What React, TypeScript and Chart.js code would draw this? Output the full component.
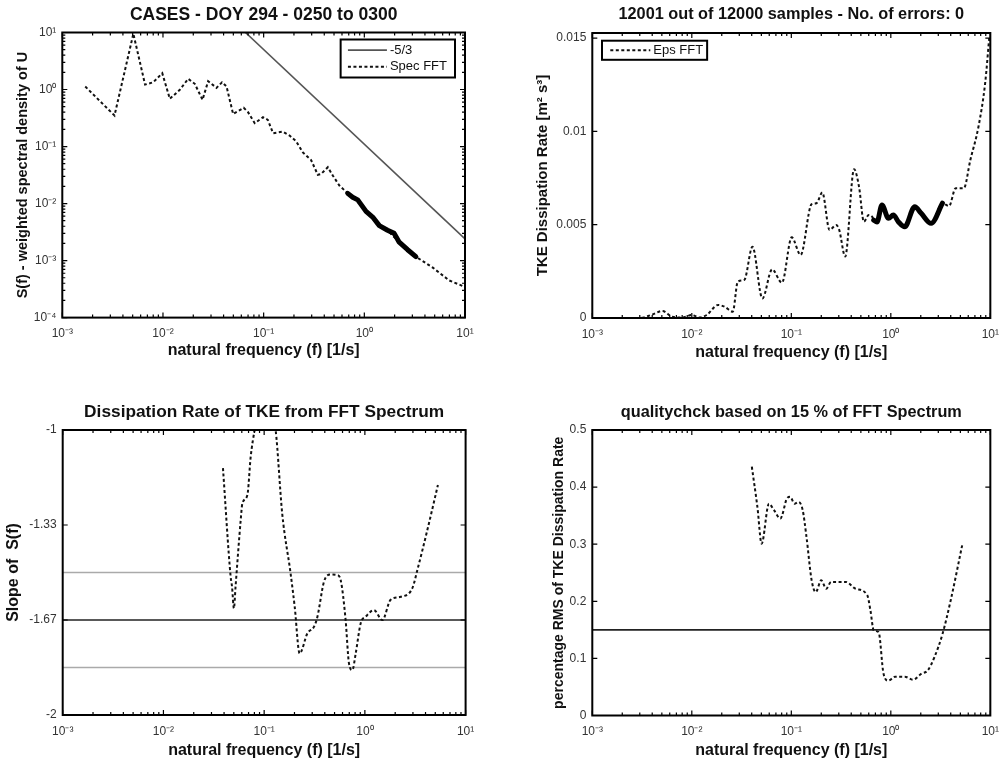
import React, { useEffect, useRef } from 'react';
import { Chart, registerables } from 'chart.js';

Chart.register(...registerables);

const FONT = "'Liberation Sans', Arial, Helvetica, sans-serif";

// ---------- tick labels ----------
const xTickValues = [0.001, 0.01, 0.1, 1, 10];
const xTickLabels = ['10⁻³', '10⁻²', '10⁻¹', '10⁰', '10¹'];
const specYTickValues = [1e-4, 1e-3, 1e-2, 1e-1, 1, 10];
const specYTickLabels = ['10⁻⁴', '10⁻³', '10⁻²', '10⁻¹', '10⁰', '10¹'];
const epsYTickValues = [0, 0.005, 0.01, 0.015];
const epsYTickLabels = ['0', '0.005', '0.01', '0.015'];
const slopeYTickValues = [-2, -1.6667, -1.3333, -1];
const slopeYTickLabels = ['-2', '-1.67', '-1.33', '-1'];
const rmsYTickValues = [0, 0.1, 0.2, 0.3, 0.4, 0.5];
const rmsYTickLabels = ['0', '0.1', '0.2', '0.3', '0.4', '0.5'];
const xRange = [0.001, 10];

// ---------- panel 1: spectrum ----------
const specFreq = [0.00169, 0.0033, 0.00508, 0.00664, 0.008, 0.00984, 0.0117, 0.0147, 0.0178, 0.0207, 0.0247, 0.0281, 0.034, 0.0386, 0.0428, 0.0497, 0.0634, 0.07, 0.0815, 0.0985, 0.11, 0.124, 0.155, 0.181, 0.21, 0.245, 0.296, 0.345, 0.372, 0.434, 0.486, 0.565, 0.684, 0.86, 1.04, 1.41, 1.7, 2.22, 3.25, 4.75, 6.95, 9.8];
const specVal = [1.13, 0.35, 9.5, 1.22, 1.34, 1.93, 0.687, 0.99, 1.54, 1.26, 0.66, 1.4, 1.07, 1.34, 1.13, 0.374, 0.478, 0.4, 0.257, 0.327, 0.294, 0.171, 0.183, 0.156, 0.124, 0.079, 0.058, 0.032, 0.033, 0.0434, 0.031, 0.0207, 0.0151, 0.0116, 0.0073, 0.0041, 0.0034, 0.0021, 0.00117, 0.00076, 0.00045, 0.00035];
const specFitFreq = [0.684, 0.766, 0.86, 1.04, 1.21, 1.41, 1.7, 1.98, 2.22, 2.69, 3.25];
const specFitVal = [0.0151, 0.0129, 0.0116, 0.0073, 0.0058, 0.0041, 0.0034, 0.003, 0.0021, 0.00155, 0.00117];
const refFreq = [0.066, 10];
const refVal = [10, 0.0024];

// ---------- panel 2: dissipation rate ----------
const epsFreq = [0.001, 0.003, 0.0039, 0.00506, 0.00636, 0.008, 0.01, 0.0118, 0.0141, 0.0184, 0.0214, 0.0258, 0.029, 0.0337, 0.0407, 0.0512, 0.0641, 0.0805, 0.101, 0.124, 0.16, 0.179, 0.205, 0.242, 0.282, 0.303, 0.348, 0.427, 0.479, 0.536, 0.6, 0.649, 0.673, 0.726, 0.815, 0.947, 1.06, 1.19, 1.38, 1.74, 2.02, 2.54, 3.3, 3.85, 4.48, 5.41, 6.3, 7.6, 8.87, 9.77];
const epsVal = [0, 0, 0.00016, 0.000375, 0.00007, 0.00002, 0.00016, 0.00003, 0.00016, 0.0007, 0.0006, 0.00034, 0.00195, 0.00204, 0.00382, 0.00105, 0.0026, 0.00189, 0.00432, 0.00338, 0.0061, 0.00615, 0.00672, 0.00472, 0.00498, 0.00472, 0.00329, 0.00797, 0.00704, 0.00516, 0.00552, 0.00543, 0.00525, 0.00514, 0.00605, 0.00534, 0.00552, 0.00516, 0.00489, 0.00596, 0.00561, 0.00507, 0.00615, 0.006, 0.00695, 0.00695, 0.00847, 0.01025, 0.01258, 0.01507];
const epsFitFreq = [0.673, 0.726, 0.815, 0.947, 1.06, 1.19, 1.38, 1.74, 2.02, 2.54, 3.3];
const epsFitVal = [0.00525, 0.00514, 0.00605, 0.00534, 0.00552, 0.00516, 0.00489, 0.00596, 0.00561, 0.00507, 0.00615];

// ---------- panel 3: slope ----------
const slopeFreq = [0.039, 0.0465, 0.048, 0.0501, 0.052, 0.0585, 0.0608, 0.0682, 0.0735, 0.0805, 0.1, 0.13, 0.151, 0.183, 0.201, 0.225, 0.269, 0.313, 0.338, 0.393, 0.457, 0.533, 0.575, 0.644, 0.695, 0.751, 0.811, 0.909, 1.02, 1.23, 1.49, 1.8, 2.27, 2.96, 3.32, 4.17, 5.31];
const slopeVal = [-1.134, -1.515, -1.55, -1.626, -1.55, -1.316, -1.257, -1.228, -1.094, -1.0, -0.85, -1.0, -1.292, -1.503, -1.62, -1.784, -1.713, -1.69, -1.655, -1.532, -1.507, -1.509, -1.526, -1.667, -1.819, -1.842, -1.784, -1.678, -1.655, -1.632, -1.667, -1.596, -1.585, -1.555, -1.491, -1.351, -1.193];
const slopeRefLevels = [-1.5, -1.6667, -1.8333];

// ---------- panel 4: quality check ----------
const rmsFreq = [0.0401, 0.0456, 0.0503, 0.0596, 0.0668, 0.0776, 0.0904, 0.0974, 0.1076, 0.118, 0.13, 0.142, 0.16, 0.176, 0.2, 0.224, 0.251, 0.353, 0.443, 0.579, 0.624, 0.673, 0.754, 0.845, 0.946, 1.1, 1.38, 1.67, 2.02, 2.35, 2.74, 3.31, 4.0, 5.21];
const rmsVal = [0.4357, 0.3655, 0.301, 0.371, 0.36, 0.345, 0.38, 0.383, 0.371, 0.374, 0.36, 0.313, 0.237, 0.216, 0.237, 0.222, 0.234, 0.234, 0.222, 0.211, 0.184, 0.149, 0.146, 0.073, 0.061, 0.068, 0.068, 0.0626, 0.073, 0.079, 0.102, 0.143, 0.202, 0.298];
const rmsThreshold = [0.15];

// ---------- helpers ----------
const zip = (xs: number[], ys: number[]) => xs.map((x, i) => ({ x, y: ys[i] }));
const hline = (y: number) => xRange.map((x) => ({ x, y }));
const labelFor = (vals: number[], labels: string[], v: number) => {
  const i = vals.findIndex((t) => Math.abs(t - v) <= Math.abs(t) * 1e-3 + 1e-12);
  return i >= 0 ? labels[i] : '';
};

const dotted = (label: string, data: any[], mono: boolean) => ({
  label,
  data,
  borderColor: '#111',
  borderWidth: 2,
  borderDash: [3, 2.5],
  pointRadius: 0,
  fill: false,
  cubicInterpolationMode: mono ? 'monotone' : 'default',
  tension: 0,
});
const thick = (label: string, data: any[], mono: boolean) => ({
  label,
  data,
  borderColor: '#000',
  borderWidth: 5,
  borderCapStyle: 'round',
  borderJoinStyle: 'round',
  pointRadius: 0,
  fill: false,
  cubicInterpolationMode: mono ? 'monotone' : 'default',
  tension: 0,
});
const solid = (label: string, data: any[], color: string, w: number) => ({
  label,
  data,
  borderColor: color,
  borderWidth: w,
  pointRadius: 0,
  fill: false,
  tension: 0,
});

// MATLAB-like box with inward ticks on all four sides
function tickList(scale: any) {
  const out: { v: number; major: boolean }[] = [];
  if (scale.type === 'logarithmic') {
    const lo = Math.floor(Math.log10(scale.min) + 1e-9);
    const hi = Math.ceil(Math.log10(scale.max) - 1e-9);
    for (let d = lo; d <= hi; d++) {
      for (let k = 1; k <= 9; k++) {
        const v = k * Math.pow(10, d);
        if (v >= scale.min * (1 - 1e-9) && v <= scale.max * (1 + 1e-9)) out.push({ v, major: k === 1 });
      }
    }
  } else {
    scale.ticks.forEach((t: any) => out.push({ v: t.value, major: true }));
  }
  return out;
}

const matlabBox = {
  id: 'matlabBox',
  afterDatasetsDraw(chart: any) {
    const { ctx, chartArea: a, scales } = chart;
    ctx.save();
    ctx.strokeStyle = '#000';
    ctx.lineWidth = 1.2;
    ctx.beginPath();
    tickList(scales.x).forEach(({ v, major }) => {
      const p = scales.x.getPixelForValue(v);
      const len = major ? 5 : 3;
      ctx.moveTo(p, a.bottom);
      ctx.lineTo(p, a.bottom - len);
      ctx.moveTo(p, a.top);
      ctx.lineTo(p, a.top + len);
    });
    tickList(scales.y).forEach(({ v, major }) => {
      const p = scales.y.getPixelForValue(v);
      const len = major ? 5 : 3;
      ctx.moveTo(a.left, p);
      ctx.lineTo(a.left + len, p);
      ctx.moveTo(a.right, p);
      ctx.lineTo(a.right - len, p);
    });
    ctx.stroke();
    ctx.lineWidth = 2;
    ctx.strokeRect(a.left, a.top, a.right - a.left, a.bottom - a.top);
    ctx.restore();
  },
};

const boxLegend = {
  id: 'boxLegend',
  afterDraw(chart: any, _args: any, opts: any) {
    if (!opts || !opts.items) return;
    const { ctx, chartArea: a } = chart;
    ctx.save();
    ctx.font = `${opts.fontSize}px ${FONT}`;
    const items = opts.items.map((i: number) => chart.data.datasets[i]);
    const tw = Math.max(...items.map((d: any) => ctx.measureText(d.label).width));
    const w = opts.padL + opts.lineLen + opts.gap + tw + opts.padR;
    const h = opts.rowH * items.length + opts.padV * 2;
    const x0 = opts.anchor === 'right' ? a.right - opts.offX - w : a.left + opts.offX;
    const y0 = a.top + opts.offY;
    ctx.fillStyle = '#fff';
    ctx.fillRect(x0, y0, w, h);
    ctx.strokeStyle = '#000';
    ctx.lineWidth = 2;
    ctx.strokeRect(x0, y0, w, h);
    items.forEach((d: any, i: number) => {
      const cy = y0 + opts.padV + opts.rowH * (i + 0.5);
      ctx.beginPath();
      ctx.strokeStyle = d.borderColor;
      ctx.lineWidth = Math.min(d.borderWidth, 2);
      ctx.setLineDash(d.borderDash || []);
      ctx.moveTo(x0 + opts.padL, cy);
      ctx.lineTo(x0 + opts.padL + opts.lineLen, cy);
      ctx.stroke();
      ctx.setLineDash([]);
      ctx.fillStyle = '#111';
      ctx.textBaseline = 'middle';
      ctx.textAlign = 'left';
      ctx.fillText(d.label, x0 + opts.padL + opts.lineLen + opts.gap, cy);
    });
    ctx.restore();
  },
};

type Panel = {
  left: number; top: number; width: number; height: number;
  area: { l: number; t: number; r: number; b: number };
  title: string; titleY: number; titleSize: number;
  xTitle: string; xTitleY: number;
  yTitle: string; yTitleX: number; yTitleSize: number;
  yType: 'linear' | 'logarithmic'; yMin: number; yMax: number;
  yTickValues: number[]; yTickLabels: string[];
  datasets: any[];
  legend?: any;
};

function buildConfig(c: Panel): any {
  const TS = c.titleSize;
  const XS = 16;
  const TK = 12;
  const titlePadTop = c.titleY - c.top - TS / 2;
  const titlePadBottom = c.area.t - c.top - titlePadTop - TS;
  const xScaleH = c.height - (c.area.b - c.top);
  const yScaleW = c.area.l - c.left;
  return {
    type: 'line',
    data: { datasets: c.datasets },
    options: {
      responsive: false,
      animation: false,
      devicePixelRatio: 1,
      layout: { padding: { left: 0, top: 0, bottom: 0, right: c.width - (c.area.r - c.left) } },
      plugins: {
        legend: { display: false },
        tooltip: { enabled: false },
        title: {
          display: true,
          text: c.title,
          fullSize: false,
          color: '#111',
          font: { family: FONT, size: TS, weight: 'bold', lineHeight: 1 },
          padding: { top: titlePadTop, bottom: titlePadBottom },
        },
        boxLegend: c.legend ? c.legend : false,
      },
      scales: {
        x: {
          type: 'logarithmic',
          position: 'bottom',
          min: xRange[0],
          max: xRange[1],
          afterBuildTicks: (s: any) => {
            s.ticks = xTickValues.map((v) => ({ value: v }));
          },
          afterFit: (s: any) => {
            s.height = xScaleH;
          },
          ticks: {
            autoSkip: false,
            maxRotation: 0,
            minRotation: 0,
            padding: 9,
            color: '#333',
            font: { family: FONT, size: TK },
            callback: (v: any) => labelFor(xTickValues, xTickLabels, Number(v)),
          },
          grid: { display: false, drawTicks: false },
          border: { display: false },
          title: {
            display: true,
            text: c.xTitle,
            color: '#111',
            font: { family: FONT, size: XS, weight: 'bold', lineHeight: 1 },
            padding: { top: 0, bottom: c.top + c.height - c.xTitleY - XS / 2 },
          },
        },
        y: {
          type: c.yType,
          position: 'left',
          min: c.yMin,
          max: c.yMax,
          afterBuildTicks: (s: any) => {
            s.ticks = c.yTickValues.map((v) => ({ value: v }));
          },
          afterFit: (s: any) => {
            s.width = yScaleW;
          },
          ticks: {
            autoSkip: false,
            padding: 6,
            color: '#333',
            font: { family: FONT, size: TK },
            callback: (v: any) => labelFor(c.yTickValues, c.yTickLabels, Number(v)),
          },
          grid: { display: false, drawTicks: false },
          border: { display: false },
          title: {
            display: true,
            text: c.yTitle,
            color: '#111',
            font: { family: FONT, size: c.yTitleSize, weight: 'bold', lineHeight: 1 },
            padding: { top: c.yTitleX - c.left - c.yTitleSize / 2, bottom: 0 },
          },
        },
      },
    },
    plugins: [matlabBox, boxLegend],
  };
}

const panels: Panel[] = [
  {
    left: 0, top: 0, width: 504, height: 380,
    area: { l: 62.3, t: 32.5, r: 465, b: 317.6 },
    title: 'CASES - DOY 294 - 0250 to 0300', titleY: 15, titleSize: 17.5,
    xTitle: 'natural frequency (f) [1/s]', xTitleY: 350.5,
    yTitle: 'S(f) - weighted spectral density of U', yTitleX: 22.5, yTitleSize: 14.5,
    yType: 'logarithmic', yMin: 1e-4, yMax: 10,
    yTickValues: specYTickValues, yTickLabels: specYTickLabels,
    datasets: [
      thick('fit range', zip(specFitFreq, specFitVal), false),
      solid('-5/3', zip(refFreq, refVal), '#555', 1.6),
      dotted('Spec FFT', zip(specFreq, specVal), false),
    ],
    legend: { items: [1, 2], anchor: 'right', offX: 10, offY: 7, padL: 7.3, lineLen: 39, gap: 3, padR: 8, padV: 2.3, rowH: 16.7, fontSize: 13 },
  },
  {
    left: 504, top: 0, width: 504, height: 380,
    area: { l: 592.3, t: 33, r: 997, b: 318 },
    title: '12001 out of 12000 samples - No. of errors: 0', titleY: 15, titleSize: 16.3,
    xTitle: 'natural frequency (f) [1/s]', xTitleY: 352.5,
    yTitle: 'TKE Dissipation Rate [m² s³]', yTitleX: 542.5, yTitleSize: 15,
    yType: 'linear', yMin: 0, yMax: 0.01527,
    yTickValues: epsYTickValues, yTickLabels: epsYTickLabels,
    datasets: [
      thick('fit range', zip(epsFitFreq, epsFitVal), true),
      dotted('Eps FFT', zip(epsFreq, epsVal), true),
    ],
    legend: { items: [1], anchor: 'left', offX: 9.7, offY: 7.7, padL: 8.3, lineLen: 40, gap: 3, padR: 4, padV: 1.2, rowH: 16.7, fontSize: 13 },
  },
  {
    left: 0, top: 380, width: 504, height: 383,
    area: { l: 62.7, t: 430, r: 465.6, b: 715 },
    title: 'Dissipation Rate of TKE from FFT Spectrum', titleY: 412.3, titleSize: 17.3,
    xTitle: 'natural frequency (f) [1/s]', xTitleY: 750.5,
    yTitle: 'Slope of  S(f)', yTitleX: 13.7, yTitleSize: 16,
    yType: 'linear', yMin: -2, yMax: -1,
    yTickValues: slopeYTickValues, yTickLabels: slopeYTickLabels,
    datasets: [
      dotted('slope', zip(slopeFreq, slopeVal), true),
      solid('upper', hline(slopeRefLevels[0]), '#aaa', 1.6),
      solid('-5/3', hline(slopeRefLevels[1]), '#222', 1.6),
      solid('lower', hline(slopeRefLevels[2]), '#aaa', 1.6),
    ],
  },
  {
    left: 504, top: 380, width: 504, height: 383,
    area: { l: 592.3, t: 430, r: 996.7, b: 715.5 },
    title: 'qualitychck based on 15 % of FFT Spectrum', titleY: 412.3, titleSize: 16.3,
    xTitle: 'natural frequency (f) [1/s]', xTitleY: 750.5,
    yTitle: 'percentage RMS of TKE Dissipation Rate', yTitleX: 559, yTitleSize: 14,
    yType: 'linear', yMin: 0, yMax: 0.5,
    yTickValues: rmsYTickValues, yTickLabels: rmsYTickLabels,
    datasets: [
      dotted('rms', zip(rmsFreq, rmsVal), true),
      solid('threshold', hline(rmsThreshold[0]), '#222', 1.6),
    ],
  },
];

function PanelChart({ cfg }: { cfg: Panel }) {
  const ref = useRef<HTMLCanvasElement>(null);
  useEffect(() => {
    if (!ref.current) return;
    const chart = new Chart(ref.current, buildConfig(cfg));
    return () => chart.destroy();
  }, [cfg]);
  return (
    <canvas
      ref={ref}
      width={cfg.width}
      height={cfg.height}
      style={{ position: 'absolute', left: cfg.left, top: cfg.top, width: cfg.width, height: cfg.height }}
    />
  );
}

export default function App() {
  return (
    <div style={{ position: 'absolute', left: 0, top: 0, width: 1008, height: 763, background: '#fff', overflow: 'hidden' }}>
      {panels.map((p, i) => (
        <PanelChart key={i} cfg={p} />
      ))}
    </div>
  );
}
